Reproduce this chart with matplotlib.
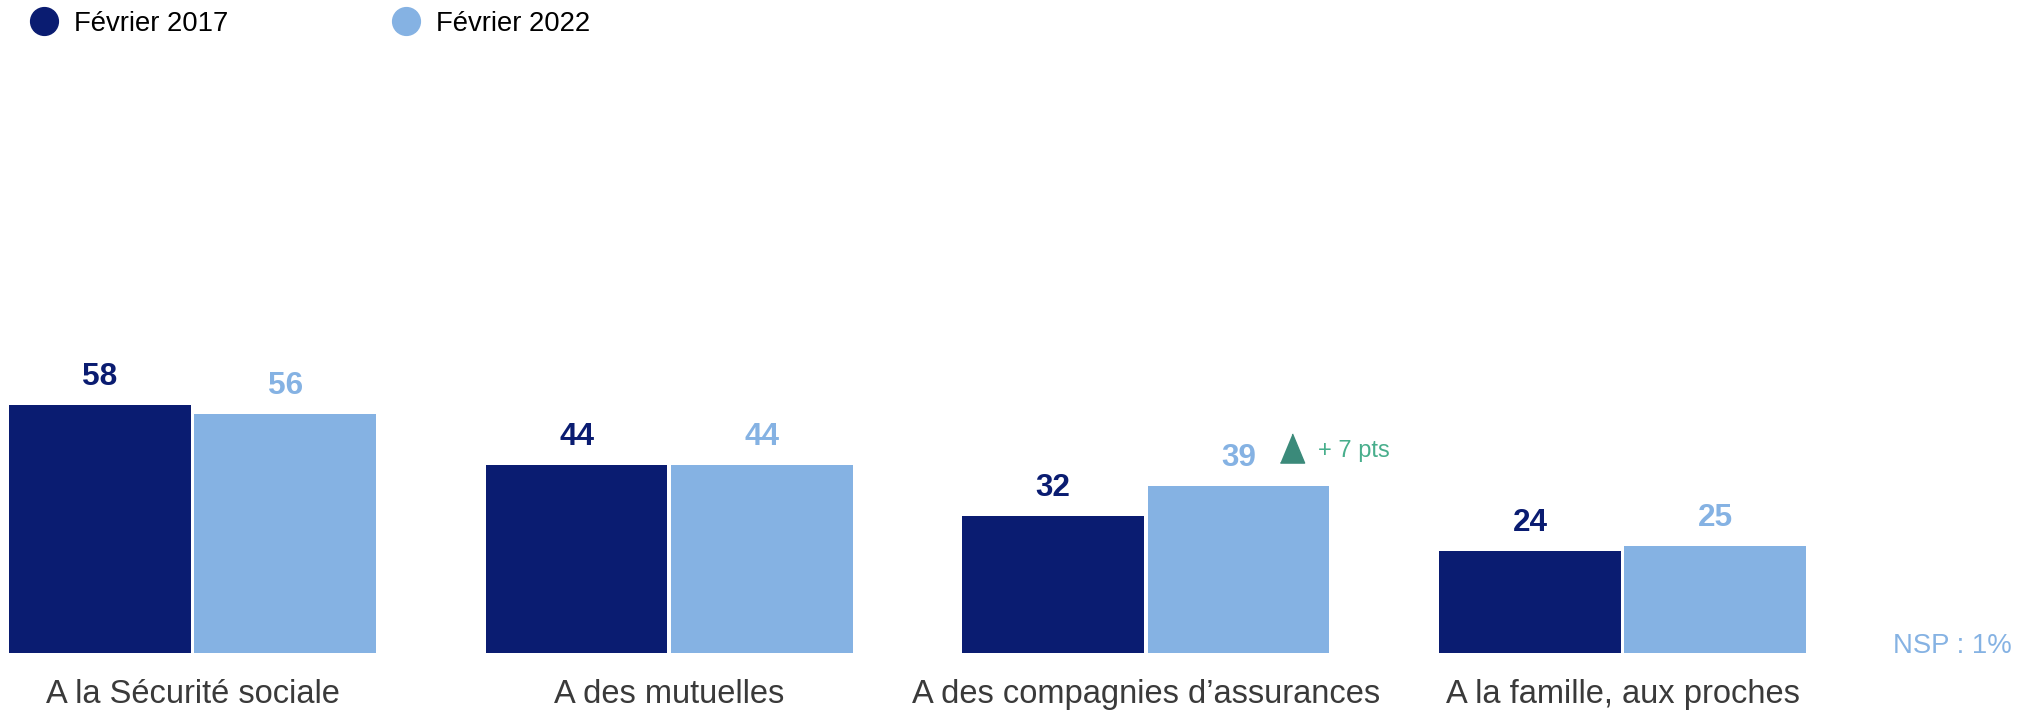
import matplotlib.pyplot as plt
import matplotlib.transforms as mtransforms
from matplotlib.lines import Line2D

# Données (sondage : à qui faites-vous confiance ...)
categories = ["A la Sécurité sociale", "A des mutuelles",
              "A des compagnies d\u2019assurances", "A la famille, aux proches"]
series_names = ["Février 2017", "Février 2022"]
vals_2017 = [58, 44, 32, 24]
vals_2022 = [56, 44, 39, 25]
nsp_label = "NSP : 1%"
highlight_idx = 2  # évolution signalée

dark = "#0A1C71"
light = "#85B2E3"
green_tri = "#3B8A7A"
green_txt = "#48AE8C"
grey = "#3A3A3A"

plt.rcParams['font.family'] = ['Liberation Sans', 'DejaVu Sans']

W, H = 2039, 712
fig = plt.figure(figsize=(W / 100, H / 100), dpi=100)
ax = fig.add_axes([0, 59 / H, 1, 653 / H])

# géométrie en pixels -> unités de données
pitch = 476.7
x0 = 192.5
bw = 181.5 / pitch
off = bw / 2 + 1.9 / pitch
xs = list(range(len(categories)))

b1 = ax.bar([x - off for x in xs], vals_2017, bw, color=dark)
b2 = ax.bar([x + off for x in xs], vals_2022, bw, color=light)

ax.set_xlim(-x0 / pitch, (W - x0) / pitch)
ax.set_ylim(0, 653 / 4.27)
ax.axis('off')

for bars, col in [(b1, dark), (b2, light)]:
    for r in bars:
        v = r.get_height()
        ax.annotate(f"{v:g}", (r.get_x() + r.get_width() / 2, v),
                    xytext=(0, 14.4), textcoords='offset points',
                    ha='center', va='baseline', fontsize=22.7,
                    fontweight='bold', color=col)

for x, lab in zip(xs, categories):
    ax.annotate(lab, (x, 0), xycoords=('data', 'axes fraction'),
                xytext=(0, -36), textcoords='offset points',
                ha='center', va='baseline', fontsize=23.5, color=grey)

# évolution significative
i = highlight_idx
delta = vals_2022[i] - vals_2017[i]
tri = [(-0.83, -1), (0.83, -1), (0, 1)]
xb = xs[i] + off
shift = mtransforms.ScaledTranslation(53.5 / 100, 38.7 / 100, fig.dpi_scale_trans)
ax.plot([xb], [vals_2022[i]], ls='', marker=tri, markersize=21,
        color=green_tri, transform=ax.transData + shift)
ax.annotate(f"+ {delta} pts", (xb, vals_2022[i]), xytext=(57.2, 25.2),
            textcoords='offset points', ha='left', va='center',
            fontsize=17, color=green_txt)

fig.text(2012 / W, 59 / H, nsp_label, ha='right', va='baseline',
         fontsize=19.8, color=light)

handles = [Line2D([], [], ls='', marker='o', markersize=20, color=c)
           for c in (dark, light)]
fig.legend(handles, series_names, loc='center left',
           bbox_to_anchor=(30.25 / W, 1 - 24 / H), ncol=2, frameon=False,
           borderpad=0, borderaxespad=0, handlelength=1.0,
           handletextpad=0.59, columnspacing=5.97,
           prop={'size': 19.8})

fig.savefig("out.png", dpi=100)
